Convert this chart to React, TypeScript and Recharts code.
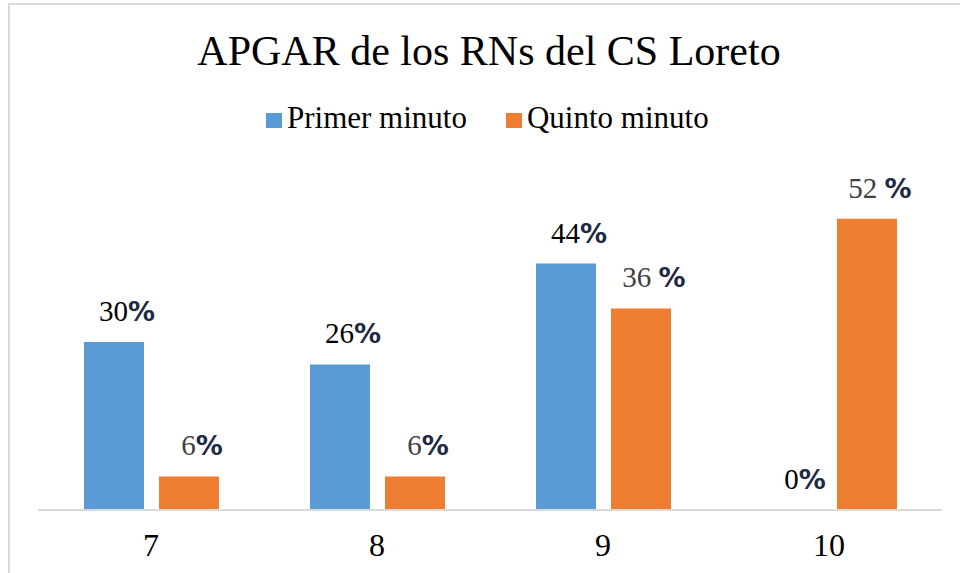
import { Bar, BarChart, LabelList, XAxis, YAxis } from 'recharts'

const categories = ['7', '8', '9', '10']
const primerMinuto = [30, 26, 44, 0]
const quintoMinuto = [6, 6, 36, 52]
const primerLabels = ['30', '26', '44', '0']
const quintoLabels = ['6', '6', '36 ', '52 ']

const BLUE = '#5B9BD5'
const ORANGE = '#ED7D31'
const SERIF = '"Liberation Serif", "Times New Roman", serif'

const data = categories.map((apgar, i) => ({
  apgar,
  primer: primerMinuto[i],
  quinto: quintoMinuto[i],
  primerLabel: primerLabels[i],
  quintoLabel: quintoLabels[i],
}))

function makeLabel(color: string) {
  return (props: any) => {
    const { x, y, width, value } = props
    return (
      <text x={x + width / 2 + 13} y={y - 21} textAnchor="middle" fontSize={29}>
        <tspan fontFamily={SERIF} fill={color}>{value}</tspan>
        <tspan fontFamily='"DejaVu Sans", sans-serif' fontWeight="bold" fontSize={27} fill="#1f2a44">%</tspan>
      </text>
    )
  }
}

function LegendItem({ color, label, gap }: { color: string; label: string; gap: number }) {
  return (
    <span style={{ marginRight: gap }}>
      <span style={{ display: 'inline-block', width: 16, height: 15, background: color, marginRight: 5 }} />
      {label}
    </span>
  )
}

export default function App() {
  return (
    <div
      style={{
        position: 'absolute',
        left: 8,
        top: 3,
        width: 952,
        height: 570,
        boxSizing: 'border-box',
        borderTop: '2px solid #d9d9d9',
        borderLeft: '2px solid #d9d9d9',
        overflow: 'hidden',
        background: '#fff',
        fontFamily: SERIF,
      }}
    >
      <div style={{ position: 'absolute', top: 25, left: 0, width: 958, textAlign: 'center', fontSize: 42, lineHeight: 1, color: '#000' }}>
        APGAR de los RNs del CS Loreto
      </div>
      <div style={{ position: 'absolute', top: 97, left: 256, whiteSpace: 'nowrap', fontSize: 31, lineHeight: 1, color: '#000' }}>
        <LegendItem color={BLUE} label="Primer minuto" gap={39} />
        <LegendItem color={ORANGE} label="Quinto minuto" gap={0} />
      </div>
      <BarChart
        width={950}
        height={565}
        data={data}
        barSize={60}
        barGap={15}
        margin={{ top: 169, right: 18, bottom: 10, left: 28 }}
      >
        <XAxis
          dataKey="apgar"
          height={50}
          tickLine={false}
          tickSize={0}
          tickMargin={23}
          axisLine={{ stroke: '#d9d9d9', strokeWidth: 2 }}
          tick={{ fill: '#000', fontSize: 32, fontFamily: SERIF }}
        />
        <YAxis hide domain={[0, 60]} />
        <Bar
          dataKey="primer"
          fill={BLUE}
          minPointSize={(v: number) => (v === 0 ? 0.01 : 0)}
          isAnimationActive={false}
        >
          <LabelList dataKey="primerLabel" content={makeLabel('#000')} />
        </Bar>
        <Bar dataKey="quinto" fill={ORANGE} isAnimationActive={false}>
          <LabelList dataKey="quintoLabel" content={makeLabel('#404040')} />
        </Bar>
      </BarChart>
    </div>
  )
}
